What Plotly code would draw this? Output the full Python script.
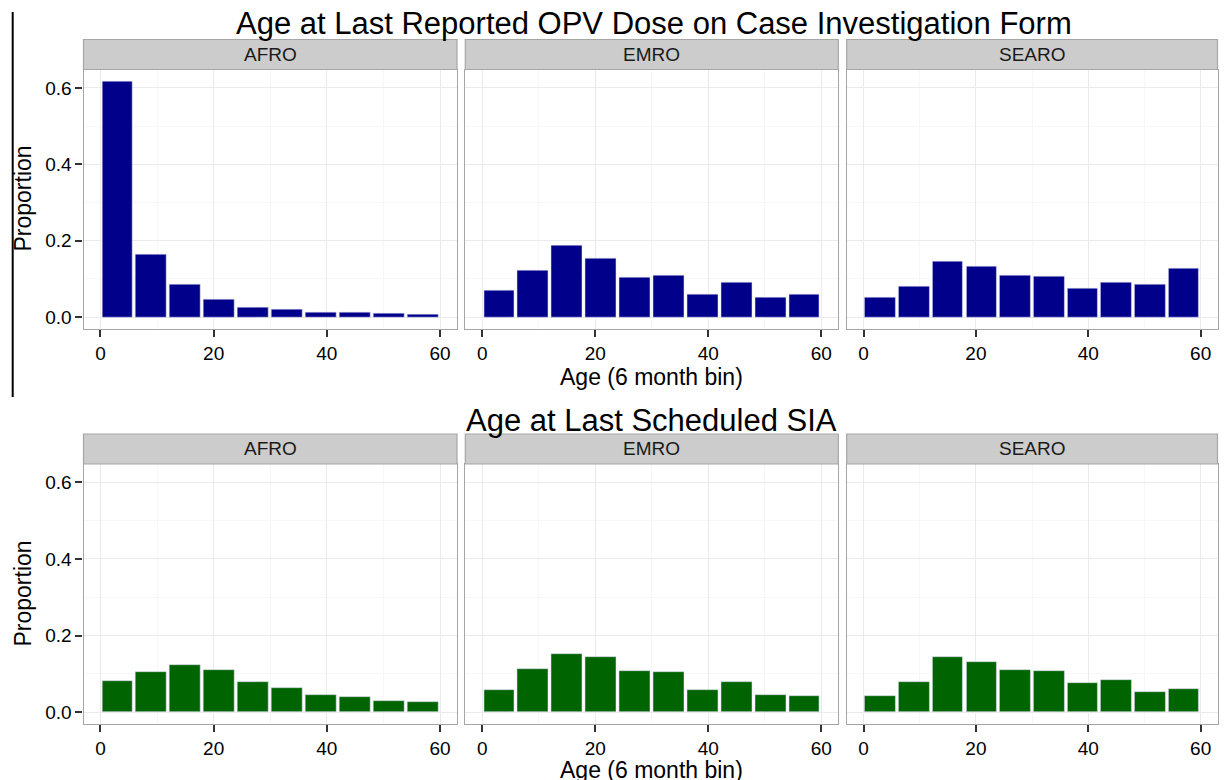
import plotly.graph_objects as go
from plotly.subplots import make_subplots

# ---------------- data ----------------
bin_centers = [3, 9, 15, 21, 27, 33, 39, 45, 51, 57]   # 6-month bins 0-6, 6-12, ..., 54-60
regions = ["AFRO", "EMRO", "SEARO"]

opv_afro = [0.617, 0.163, 0.085, 0.046, 0.026, 0.019, 0.013, 0.011, 0.0087, 0.006]
opv_emro = [0.070, 0.123, 0.187, 0.154, 0.105, 0.108, 0.059, 0.090, 0.051, 0.060]
opv_searo = [0.052, 0.080, 0.145, 0.133, 0.110, 0.107, 0.075, 0.090, 0.085, 0.128]

sia_afro = [0.081, 0.104, 0.122, 0.110, 0.0775, 0.064, 0.046, 0.040, 0.030, 0.026]
sia_emro = [0.058, 0.113, 0.151, 0.143, 0.107, 0.104, 0.059, 0.078, 0.044, 0.041]
sia_searo = [0.043, 0.080, 0.143, 0.130, 0.111, 0.107, 0.075, 0.085, 0.052, 0.060]

x_ticks = [0, 20, 40, 60]
y_ticks = [0.0, 0.2, 0.4, 0.6]
y_tick_labels = ["0.0", "0.2", "0.4", "0.6"]

title_top = "Age at Last Reported OPV Dose on Case Investigation Form"
title_bottom = "Age at Last Scheduled SIA"
x_title = "Age (6 month bin)"
y_title = "Proportion"

# ---------------- layout geometry (pixels) ----------------
W, H = 1224, 780
panel_x = [(83.5, 457.0), (465.3, 838.3), (846.7, 1217.5)]
rows_px = [  # (strip_top, panel_top, panel_bottom)
    (39.5, 69.5, 329.0),
    (434.0, 464.0, 724.0),
]

def fx(px):
    return px / W

def fy(py):
    return 1 - py / H

FONT = "Liberation Sans, Arial, sans-serif"
blue = "#00008B"
green = "#006400"

fig = make_subplots(rows=2, cols=3)

series = [
    [opv_afro, opv_emro, opv_searo],
    [sia_afro, sia_emro, sia_searo],
]
colors = [blue, green]

for r in range(2):
    for c in range(3):
        fig.add_trace(
            go.Bar(
                x=bin_centers,
                y=series[r][c],
                width=5.45,
                marker=dict(color=colors[r], line=dict(color="rgba(220,220,240,0.9)", width=0.6)),
                showlegend=False,
                hoverinfo="x+y",
            ),
            row=r + 1,
            col=c + 1,
        )

shapes = []
annotations = []

for r in range(2):
    strip_top, ptop, pbot = rows_px[r]
    for c in range(3):
        idx = r * 3 + c + 1
        xa = "xaxis" if idx == 1 else f"xaxis{idx}"
        ya = "yaxis" if idx == 1 else f"yaxis{idx}"
        x0, x1 = panel_x[c]
        fig.layout[xa].update(
            domain=[fx(x0), fx(x1)],
            range=[-3, 63],
            tickvals=x_ticks,
            ticks="outside",
            ticklen=7,
            tickwidth=1.8,
            tickcolor="#333333",
            tickfont=dict(family=FONT, size=19, color="#000000"),
            showgrid=True,
            gridcolor="#ebebeb",
            gridwidth=1,
            minor=dict(dtick=10, showgrid=True, gridcolor="#f7f7f7", gridwidth=1),
            showline=True,
            mirror=True,
            linecolor="#a6a6a6",
            linewidth=1.2,
            zeroline=False,
            fixedrange=True,
        )
        fig.layout[ya].update(
            domain=[fy(pbot), fy(ptop)],
            range=[-0.0309, 0.648],
            tickvals=y_ticks,
            ticktext=y_tick_labels,
            ticks="outside" if c == 0 else "",
            showticklabels=(c == 0),
            ticklen=7,
            tickwidth=1.8,
            tickcolor="#333333",
            tickfont=dict(family=FONT, size=19, color="#000000"),
            showgrid=True,
            gridcolor="#ebebeb",
            gridwidth=1,
            minor=dict(dtick=0.1, showgrid=True, gridcolor="#f7f7f7", gridwidth=1),
            showline=True,
            mirror=True,
            linecolor="#a6a6a6",
            linewidth=1.2,
            zeroline=False,
            fixedrange=True,
        )
        # facet strip
        shapes.append(dict(
            type="rect", xref="paper", yref="paper",
            x0=fx(x0), x1=fx(x1), y0=fy(ptop), y1=fy(strip_top),
            fillcolor="#cccccc", line=dict(color="#a6a6a6", width=1.2), layer="above",
        ))
        annotations.append(dict(
            x=fx((x0 + x1) / 2), y=fy((strip_top + ptop) / 2),
            xref="paper", yref="paper", text=regions[c], showarrow=False,
            xanchor="center", yanchor="middle",
            font=dict(family=FONT, size=19, color="#1a1a1a"),
        ))

# titles
annotations.append(dict(x=fx(654), y=fy(23), xref="paper", yref="paper", text=title_top,
                        showarrow=False, xanchor="center", yanchor="middle",
                        font=dict(family=FONT, size=31, color="#000000")))
annotations.append(dict(x=fx(651), y=fy(420), xref="paper", yref="paper", text=title_bottom,
                        showarrow=False, xanchor="center", yanchor="middle",
                        font=dict(family=FONT, size=31, color="#000000")))
# x axis titles
for yc in (377, 770):
    annotations.append(dict(x=fx(651), y=fy(yc), xref="paper", yref="paper", text=x_title,
                            showarrow=False, xanchor="center", yanchor="middle",
                            font=dict(family=FONT, size=23, color="#000000")))
# y axis titles
for yc in (199, 594):
    annotations.append(dict(x=fx(22.5), y=fy(yc), xref="paper", yref="paper", text=y_title,
                            showarrow=False, xanchor="center", yanchor="middle", textangle=-90,
                            font=dict(family=FONT, size=23, color="#000000")))

# vertical rule at the left edge of the upper block
shapes.append(dict(type="line", xref="paper", yref="paper",
                   x0=fx(12.7), x1=fx(12.7), y0=fy(12), y1=fy(397),
                   line=dict(color="#000000", width=2)))

fig.update_layout(
    width=W, height=H,
    margin=dict(l=0, r=0, t=0, b=0),
    paper_bgcolor="white",
    plot_bgcolor="white",
    shapes=shapes,
    annotations=annotations,
    bargap=0,
    showlegend=False,
)

fig.write_html("out.html", config={"displayModeBar": False},
               post_script="document.body.style.margin='0';document.body.style.overflow='hidden';")
